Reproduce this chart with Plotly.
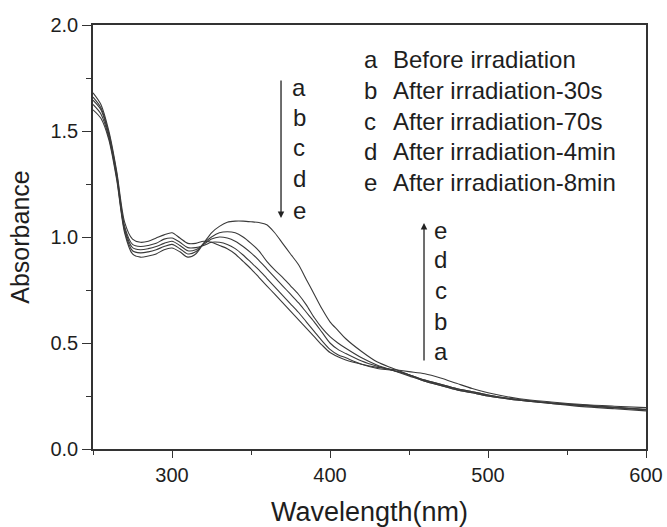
import plotly.graph_objects as go

wavelength = [250, 255, 260, 265, 270, 275, 280, 285, 290, 295, 300, 305, 310, 315, 320,
              325, 330, 335, 340, 345, 350, 355, 360, 365, 370, 375, 380, 385, 390, 395,
              400, 405, 410, 420, 430, 440, 450, 460, 470, 480, 490, 500, 520, 540, 560, 580, 600]

abs_a = [1.60, 1.56, 1.46, 1.27, 1.02, 0.92, 0.905, 0.91, 0.92, 0.94, 0.948, 0.93, 0.905, 0.92, 0.97,
         1.02, 1.05, 1.07, 1.075, 1.075, 1.072, 1.068, 1.058, 1.02, 0.97, 0.92, 0.87, 0.80, 0.73, 0.66,
         0.60, 0.56, 0.52, 0.46, 0.41, 0.38, 0.35, 0.32, 0.30, 0.28, 0.265, 0.25, 0.23, 0.215, 0.20, 0.19, 0.18]
abs_b = [1.625, 1.58, 1.47, 1.28, 1.03, 0.935, 0.925, 0.93, 0.94, 0.955, 0.965, 0.945, 0.92, 0.93, 0.97,
         1.00, 1.02, 1.025, 1.02, 1.0, 0.97, 0.935, 0.885, 0.845, 0.81, 0.77, 0.73, 0.68, 0.62, 0.57,
         0.53, 0.50, 0.475, 0.43, 0.395, 0.37, 0.345, 0.32, 0.30, 0.28, 0.265, 0.25, 0.23, 0.215, 0.205, 0.195, 0.185]
abs_c = [1.645, 1.60, 1.48, 1.29, 1.04, 0.95, 0.94, 0.945, 0.955, 0.97, 0.98, 0.96, 0.935, 0.94, 0.965,
         0.99, 1.0, 0.995, 0.98, 0.955, 0.925, 0.89, 0.85, 0.81, 0.77, 0.73, 0.69, 0.645, 0.60, 0.55,
         0.50, 0.47, 0.45, 0.415, 0.39, 0.37, 0.35, 0.325, 0.305, 0.285, 0.27, 0.255, 0.232, 0.217, 0.205, 0.195, 0.185]
abs_d = [1.66, 1.61, 1.49, 1.30, 1.05, 0.965, 0.955, 0.96, 0.97, 0.99, 0.995, 0.975, 0.95, 0.95, 0.96,
         0.975, 0.975, 0.965, 0.945, 0.915, 0.88, 0.845, 0.805, 0.765, 0.725, 0.685, 0.645, 0.60, 0.555, 0.51,
         0.47, 0.445, 0.43, 0.40, 0.38, 0.37, 0.35, 0.325, 0.305, 0.285, 0.27, 0.255, 0.232, 0.217, 0.207, 0.197, 0.187]
abs_e = [1.68, 1.625, 1.50, 1.31, 1.07, 0.99, 0.975, 0.98, 0.995, 1.01, 1.02, 0.995, 0.97, 0.97, 0.98,
         0.975, 0.96, 0.945, 0.92, 0.885, 0.85, 0.81, 0.77, 0.73, 0.69, 0.65, 0.61, 0.57, 0.53, 0.49,
         0.455, 0.435, 0.42, 0.40, 0.385, 0.375, 0.365, 0.355, 0.335, 0.31, 0.285, 0.265, 0.237, 0.222, 0.21, 0.202, 0.195]

series_names = ["a", "b", "c", "d", "e"]
series_values = [abs_a, abs_b, abs_c, abs_d, abs_e]
legend_texts = ["Before irradiation", "After irradiation-30s", "After irradiation-70s",
                "After irradiation-4min", "After irradiation-8min"]

x_ticks = [300, 400, 500, 600]
y_ticks = [0.0, 0.5, 1.0, 1.5, 2.0]

FONT = "Liberation Sans, Arial, sans-serif"
INK = "#1e1e1e"
TXT = 24

fig = go.Figure()
for name, vals in zip(series_names, series_values):
    fig.add_trace(go.Scatter(x=wavelength, y=vals, mode="lines", name=name,
                             line=dict(color="#3a3a3a", width=1.1, shape="spline", smoothing=0.8),
                             showlegend=False, hoverinfo="skip"))

annotations = []
leg_y = [1.835, 1.689, 1.545, 1.401, 1.258]
for name, txt, yy in zip(series_names, legend_texts, leg_y):
    annotations.append(dict(x=420.5, y=yy, xref="x", yref="y", text=name, showarrow=False,
                            xanchor="left", yanchor="middle", font=dict(size=TXT, family=FONT, color=INK)))
    annotations.append(dict(x=438.5, y=yy, xref="x", yref="y", text=txt, showarrow=False,
                            xanchor="left", yanchor="middle", font=dict(size=TXT, family=FONT, color=INK)))

down_y = [1.703, 1.566, 1.420, 1.278, 1.127]
for name, yy in zip(series_names, down_y):
    annotations.append(dict(x=380.5, y=yy, xref="x", yref="y", text=name, showarrow=False,
                            xanchor="center", yanchor="middle", font=dict(size=TXT, family=FONT, color=INK)))
annotations.append(dict(x=369, y=1.09, ax=369, ay=1.745, xref="x", yref="y", axref="x", ayref="y",
                        text="", showarrow=True, arrowhead=2, arrowsize=1, arrowwidth=1.3, arrowcolor="#222"))

up_y = [0.458, 0.600, 0.750, 0.892, 1.033]
for name, yy in zip(series_names, up_y):
    annotations.append(dict(x=470, y=yy, xref="x", yref="y", text=name, showarrow=False,
                            xanchor="center", yanchor="middle", font=dict(size=TXT, family=FONT, color=INK)))
annotations.append(dict(x=459.5, y=1.066, ax=459.5, ay=0.41, xref="x", yref="y", axref="x", ayref="y",
                        text="", showarrow=True, arrowhead=2, arrowsize=1, arrowwidth=1.3, arrowcolor="#222"))

fig.update_layout(
    width=667, height=527,
    margin=dict(l=93, r=21, t=25, b=78),
    paper_bgcolor="white", plot_bgcolor="white",
    font=dict(family=FONT, color=INK, size=20),
    annotations=annotations,
    xaxis=dict(range=[250, 600], tickvals=x_ticks, ticks="outside", ticklen=7, tickwidth=1.3,
               tickcolor="#333", showline=True, linecolor="#333", linewidth=1.5, mirror=True,
               showgrid=False, zeroline=False, automargin=False,
               tickfont=dict(size=20, family=FONT, color=INK),
               minor=dict(tickvals=[250, 350, 450, 550], ticks="outside", ticklen=4, tickwidth=1.3, tickcolor="#333", showgrid=False),
               title=dict(text="Wavelength(nm)", standoff=19, font=dict(size=27, family=FONT, color=INK))),
    yaxis=dict(range=[0, 2.0], tickvals=y_ticks, tickformat=".1f", ticks="outside", ticklen=9, tickwidth=1.3,
               tickcolor="#333", showline=True, linecolor="#333", linewidth=1.5, mirror=True,
               showgrid=False, zeroline=False, automargin=False,
               tickfont=dict(size=20, family=FONT, color=INK),
               minor=dict(tickvals=[0.25, 0.75, 1.25, 1.75], ticks="outside", ticklen=5, tickwidth=1.3, tickcolor="#333", showgrid=False),
               title=dict(text="Absorbance", standoff=14, font=dict(size=25, family=FONT, color=INK))),
)

fig.write_html("out.html", config={"displayModeBar": False},
               post_script="document.body.style.margin='0';document.body.style.overflow='hidden';document.documentElement.style.overflow='hidden';")
